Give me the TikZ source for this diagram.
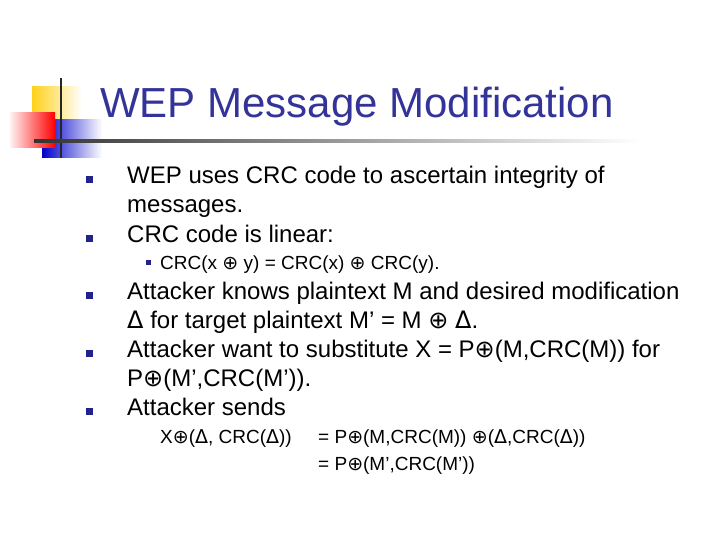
\documentclass[tikz,border=0pt]{standalone}
\usepackage{fontspec}
\setmainfont{Liberation Sans}
\newfontfamily\sym{DejaVu Sans}
\newcommand{\op}{{\sym ⊕}}
\newcommand{\D}{{\sym Δ}}
\definecolor{ttl}{RGB}{51,51,153}
\definecolor{bul}{RGB}{34,34,140}
\begin{document}
\begin{tikzpicture}[x=1pt,y=-1pt,
  txt/.style={anchor=base west,inner sep=0pt,font=\fontsize{24}{28}\selectfont},
  sub/.style={anchor=base west,inner sep=0pt,font=\fontsize{19}{22}\selectfont},
  bull/.style={fill=bul,minimum size=7pt,inner sep=0pt},
  sbull/.style={fill=bul,minimum size=5pt,inner sep=0pt}]
\useasboundingbox (0,0) rectangle (720,540);
\fill[white] (0,0) rectangle (720,540);
% logo
\shade[left color=yellow!60!orange!90, right color=white] (32,87) rectangle (82,122);
\shade[left color=blue!80!black, right color=white] (42,120) rectangle (102,158);
\shade[left color=red!5, right color=red] (10,113) rectangle (55,148);
\draw[line width=2.5pt,black!85] (61,78) -- (61,158);
\shade[left color=black!80, right color=white] (34,140) rectangle (640,142.5);
\node[anchor=base west,inner sep=0pt,text=ttl,font=\fontsize{42}{46}\selectfont] (title) at (100,118) {WEP Message Modification};
% bullets
\foreach \y/\n in {180/b1,238/b2,295/b3,353/b4,411/b5} \node[bull] (\n) at (89,\y) {};
\node[sbull] (s1) at (148,262) {};
\node[txt] (t1) at (127,184) {WEP uses CRC code to ascertain integrity of};
\node[txt] (t2) at (127,213) {messages.};
\node[txt] (t3) at (127,242) {CRC code is linear:};
\node[sub] (t4) at (160,269) {CRC(x \op{} y) = CRC(x) \op{} CRC(y).};
\node[txt] (t5) at (127,299) {Attacker knows plaintext M and desired modification};
\node[txt] (t6) at (127,328) {\D{} for target plaintext M’ = M \op{} \D.};
\node[txt] (t7) at (127,357) {Attacker want to substitute X = P\op(M,CRC(M)) for};
\node[txt] (t8) at (127,386) {P\op(M’,CRC(M’)).};
\node[txt] (t9) at (127,415) {Attacker sends};
\node[sub] (t10) at (160,443) {X\op(\D, CRC(\D))};
\node[sub] (t11) at (318,443) {= P\op(M,CRC(M)) \op(\D,CRC(\D))};
\node[sub] (t12) at (318,470) {= P\op(M’,CRC(M’))};
\end{tikzpicture}
\end{document}
